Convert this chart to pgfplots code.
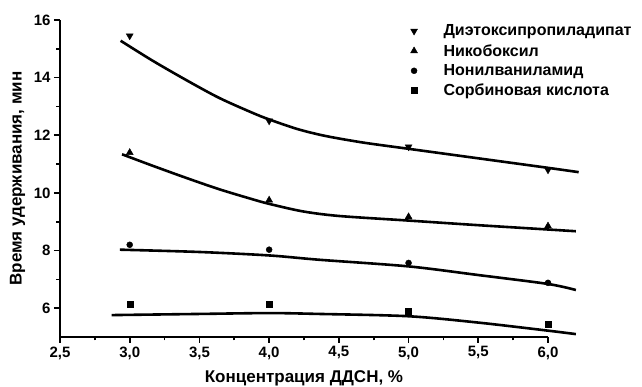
\documentclass[border=0pt]{standalone}
\usepackage{pgfplots}
\pgfplotsset{compat=1.18}
\usepackage{fontspec}
\setmainfont{Liberation Sans}
\begin{document}
\begin{tikzpicture}[x=1pt,y=1pt]
\useasboundingbox (-60,-50) rectangle (582,337);
\begin{axis}[
  at={(0,0)}, anchor=south west,
  scale only axis, width=488pt, height=317pt,
  xmin=2.5, xmax=6.0, ymin=5, ymax=16,
  clip=false,
  axis x line*=bottom, axis y line*=left,
  axis line style={line width=2pt},
  xtick={2.5,3,...,6}, ytick={6,8,...,16},
  minor x tick num=1, minor y tick num=1,
  tick align=outside,
  major tick length=6pt, minor tick length=3.5pt,
  tick style={line width=1.6pt, black},
  /pgf/number format/assume math mode=true,
  xticklabel style={/pgf/number format/.cd, fixed, fixed zerofill, precision=1, use comma},
  ticklabel style={font=\bfseries\fontsize{15}{15}\selectfont},
  xlabel={Концентрация ДДСН, \%},
  ylabel={Время удерживания, мин},
  xlabel style={at={(axis description cs:0.5,-0.129)}, anchor=center},
  ylabel style={at={(axis description cs:-0.087,0.5)}, anchor=center},
  label style={font=\bfseries\fontsize{17}{17}\selectfont},
  legend style={draw=none, fill=none, at={(0.716,0.995)}, anchor=north west,
    font=\bfseries\fontsize{16}{16}\selectfont, row sep=3pt, inner sep=1pt,
    /tikz/every odd column/.append style={column sep=24pt}},
  legend cell align=left,
]
% data points
\addplot[only marks, black, mark=triangle*, mark size=4pt, mark options={rotate=180}]
  coordinates {(3,15.45) (4,12.5) (5,11.6) (6,10.8)};
\addlegendentry{Диэтоксипропиладипат}
\addplot[only marks, black, mark=triangle*, mark size=4pt]
  coordinates {(3,11.4) (4,9.75) (5,9.17) (6,8.85)};
\addlegendentry{Никобоксил}
\addplot[only marks, black, mark=*, mark size=3pt]
  coordinates {(3,8.2) (4,8.03) (5,7.57) (6,6.88)};
\addlegendentry{Нонилваниламид}
\addplot[only marks, black, mark=square*, mark size=3pt]
  coordinates {(3,6.13) (4,6.13) (5,5.88) (6,5.45)};
\addlegendentry{Сорбиновая кислота}
% fitted curves
\addplot[black, line width=2.6pt, smooth, tension=0.5, forget plot]
  coordinates {(2.935,15.28) (3.16,14.6) (3.4,13.93) (3.64,13.3) (3.88,12.78) (4.0,12.55) (4.2,12.22) (4.4,11.98) (4.67,11.75) (5,11.53) (5.5,11.2) (6,10.87) (6.22,10.72)};
\addplot[black, line width=2.6pt, smooth, tension=0.5, forget plot]
  coordinates {(2.945,11.34) (3.16,10.95) (3.4,10.53) (3.64,10.13) (3.88,9.78) (4.0,9.62) (4.24,9.36) (4.5,9.2) (5,9.04) (5.5,8.88) (6,8.73) (6.2,8.67)};
\addplot[black, line width=2.6pt, smooth, tension=0.5, forget plot]
  coordinates {(2.93,8.03) (3.5,7.95) (4,7.83) (4.36,7.68) (5,7.45) (5.5,7.15) (6,6.84) (6.2,6.63)};
\addplot[black, line width=2.6pt, smooth, tension=0.5, forget plot]
  coordinates {(2.87,5.76) (3.5,5.8) (4,5.83) (4.36,5.8) (5,5.72) (5.5,5.5) (6,5.22) (6.2,5.1)};
\end{axis}
\end{tikzpicture}
\end{document}
